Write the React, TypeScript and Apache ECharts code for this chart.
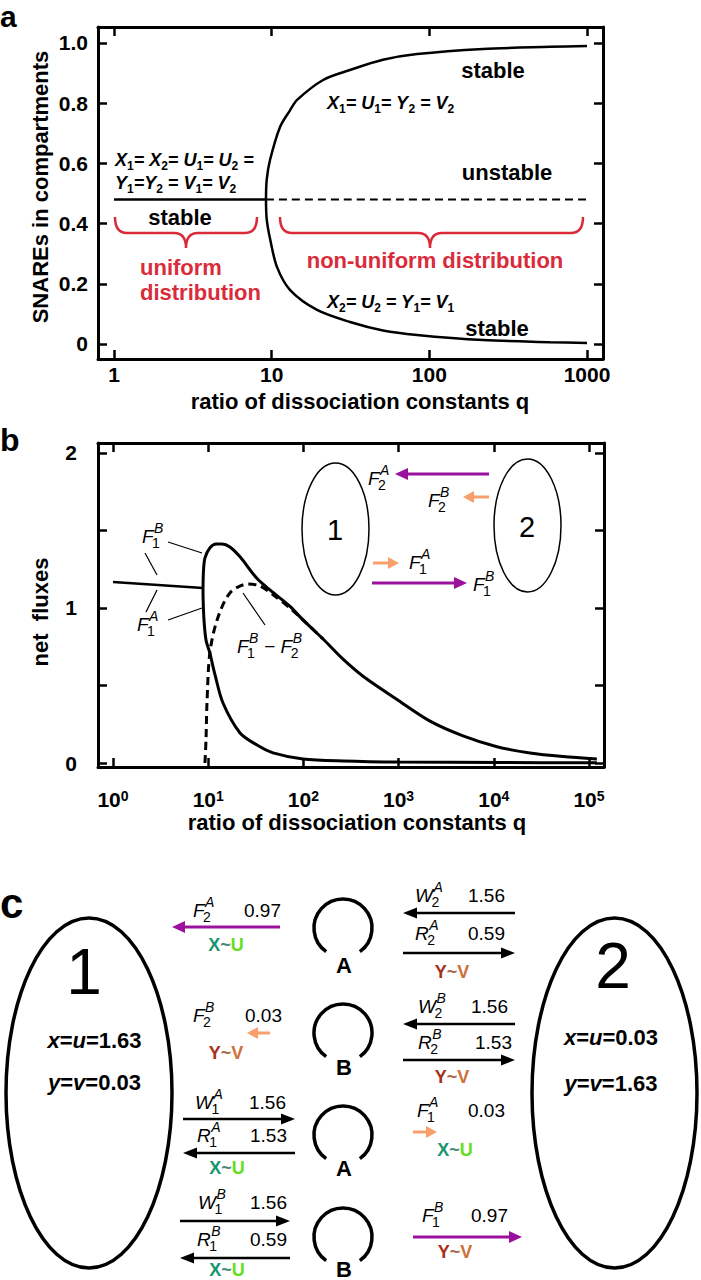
import React, { useEffect, useRef } from 'react';
import * as echarts from 'echarts';

const FF = '"Liberation Sans", Arial, Helvetica, sans-serif';
const RED = '#d92b3a';
const PURPLE = '#9b119e';
const ORANGE = '#f8a06c';
const TEAL = '#18966e';
const GREEN = '#66dd22';
const BROWN = '#a5301c';
const TAN = '#cf7038';

// ---------- panel a data ----------
const aTickQ = [1, 10, 100, 1000];
const aTickY = [0, 0.2, 0.4, 0.6, 0.8, 1.0];
const aUniformQ = [1, 9.2];
const aUniformY = [0.48, 0.48];
const aUnstableQ = [9.2, 1000];
const aUnstableY = [0.48, 0.48];
const aUpperQ = [9.2, 9.3, 9.76, 11.3, 13.1, 14.5, 21.2, 31.4, 50.8, 83.5, 219, 582, 1000];
const aUpperY = [0.48, 0.545, 0.611, 0.721, 0.777, 0.811, 0.877, 0.91, 0.944, 0.963, 0.98, 0.987, 0.99];
const aLowerQ = [9.2, 9.3, 9.76, 10.8, 13.1, 19.4, 31.4, 50.8, 83.5, 219, 582, 1000];
const aLowerY = [0.48, 0.415, 0.35, 0.256, 0.179, 0.113, 0.073, 0.045, 0.03, 0.013, 0.006, 0.003];

// ---------- panel b data ----------
const bTickExp = [0, 1, 2, 3, 4, 5];
const bTickY = [0, 0.5, 1, 1.5, 2];
const bLabelY = [0, 1, 2];
const bUniformQ = [1, 8.82];
const bUniformF = [1.168, 1.129];
const bUpperQ = [8.82, 8.93, 9.25, 10.4, 12.1, 14.0, 16.9, 21.6, 32.6, 48, 72.3, 99, 161, 261, 423, 962, 2140, 4750, 10800, 24000, 53300, 121000];
const bUpperF = [1.129, 1.245, 1.323, 1.387, 1.413, 1.413, 1.394, 1.33, 1.19, 1.1, 1.01, 0.923, 0.8, 0.67, 0.56, 0.41, 0.27, 0.175, 0.105, 0.065, 0.042, 0.026];
const bLowerQ = [8.82, 8.85, 9.03, 9.48, 10.4, 11.8, 14.3, 21.6, 32.6, 48, 99, 261, 1030, 11700, 121000];
const bLowerF = [1.129, 1.05, 0.923, 0.794, 0.71, 0.568, 0.387, 0.194, 0.116, 0.065, 0.026, 0.013, 0.006, 0.003, 0.001];
const bDiffQ = [9.25, 9.48, 9.71, 10.4, 12.4, 16.9, 26.2, 35, 48, 72.3, 99, 161];
const bDiffF = [0, 0.148, 0.387, 0.71, 0.923, 1.097, 1.155, 1.142, 1.085, 1.0, 0.923, 0.8];

// ---------- panel c values ----------
const cConc1 = ['1.63', '0.03'];
const cConc2 = ['0.03', '1.63'];
const cLeftVals = ['0.97', '0.03', '1.56', '1.53', '1.56', '0.59'];
const cRightVals = ['1.56', '0.59', '1.56', '1.53', '0.03', '0.97'];

const braceA = 'M115 217 Q115 233 127 233 L174 233 Q186 233 186 248 Q186 233 198 233 L245 233 Q257 233 257 217';
const braceB = 'M280 217 Q280 233 292 233 L418 233 Q430 233 430 248 Q430 233 442 233 L571 233 Q583 233 583 217';
echarts.graphic.registerShape('braceA', (echarts.graphic as any).extendPath(braceA, {}));
echarts.graphic.registerShape('braceB', (echarts.graphic as any).extendPath(braceB, {}));

let mctx: CanvasRenderingContext2D | null = null;
function mw(t: string, s: number, b = false, i = false): number {
  if (!mctx) mctx = document.createElement('canvas').getContext('2d');
  mctx!.font = `${i ? 'italic ' : ''}${b ? 'bold ' : ''}${s}px ${FF}`;
  return mctx!.measureText(t).width;
}

function T(x: number, y: number, t: string, s: number, o: any = {}) {
  return {
    type: 'text', x, y, rotation: o.r || 0, silent: true, z: 10,
    style: {
      text: t, fill: o.c || '#000', fontSize: s, fontFamily: FF,
      fontWeight: o.b ? 'bold' : 'normal', fontStyle: o.i ? 'italic' : 'normal',
      textAlign: o.a || 'left', textVerticalAlign: 'middle',
    },
  };
}

type P = { t: string; s: number; b?: boolean; i?: boolean; c?: string; dy?: number; sup?: string; sub?: string; ss?: number };
function run(x: number, y: number, parts: P[], align = 'left') {
  const ws = parts.map((p) => {
    let w = mw(p.t, p.s, p.b, p.i);
    if (p.sup != null || p.sub != null) {
      const ss = p.ss || Math.round(p.s * 0.72);
      w += Math.max(p.sup ? mw(p.sup, ss, p.b, true) : 0, p.sub ? mw(p.sub, ss, p.b, false) : 0) + 1;
    }
    return w;
  });
  const total = ws.reduce((a, b) => a + b, 0);
  let cx = align === 'left' ? x : align === 'center' ? x - total / 2 : x - total;
  const out: any[] = [];
  parts.forEach((p, k) => {
    out.push(T(cx, y + (p.dy || 0), p.t, p.s, { b: p.b, i: p.i, c: p.c }));
    if (p.sup != null || p.sub != null) {
      const ss = p.ss || Math.round(p.s * 0.72);
      const bw = mw(p.t, p.s, p.b, p.i);
      if (p.sup) out.push(T(cx + bw + 0.5, y - p.s * 0.42, p.sup, ss, { b: p.b, i: true, c: p.c }));
      if (p.sub) out.push(T(cx + bw - 1.5, y + p.s * 0.36, p.sub, ss, { b: p.b, c: p.c }));
    }
    cx += ws[k];
  });
  return out;
}

function formula(x: number, y: number, src: string, s: number, ss: number) {
  const parts: P[] = [];
  const re = /_(\d)/g;
  let last = 0;
  let m: RegExpExecArray | null;
  while ((m = re.exec(src))) {
    if (m.index > last) parts.push({ t: src.slice(last, m.index), s, b: true, i: true });
    parts.push({ t: m[1], s: ss, b: true, dy: s * 0.32 });
    last = m.index + 2;
  }
  if (last < src.length) parts.push({ t: src.slice(last), s, b: true, i: true });
  return run(x, y, parts, 'left');
}

function sym(x: number, y: number, base: string, sup: string, sub: string, s = 19) {
  return run(x, y, [{ t: base, s, i: true, sup, sub, ss: 14 }]);
}

function arrow(x1: number, y: number, x2: number, color: string, lw: number, hl: number, hw: number) {
  const dir = x2 > x1 ? 1 : -1;
  return [
    { type: 'line', silent: true, z: 10, shape: { x1, y1: y, x2: x2 - dir * hl * 0.7, y2: y }, style: { stroke: color, lineWidth: lw } },
    { type: 'polygon', silent: true, z: 10, shape: { points: [[x2, y], [x2 - dir * hl, y - hw], [x2 - dir * hl, y + hw]] }, style: { fill: color } },
  ];
}

function ln(x1: number, y1: number, x2: number, y2: number, w = 1.2) {
  return { type: 'line', silent: true, z: 10, shape: { x1, y1, x2, y2 }, style: { stroke: '#000', lineWidth: w } };
}

function xu(cx: number, y: number) {
  return run(cx, y, [
    { t: 'X', s: 18, b: true, c: TEAL },
    { t: '~', s: 18, b: true, c: '#4a8a7c' },
    { t: 'U', s: 18, b: true, c: GREEN },
  ], 'center');
}
function yv(cx: number, y: number) {
  return run(cx, y, [
    { t: 'Y', s: 18, b: true, c: BROWN },
    { t: '~', s: 18, b: true, c: '#a86a50' },
    { t: 'V', s: 18, b: true, c: TAN },
  ], 'center');
}

function conc(cx: number, y: number, v1: string, v2: string, val: string) {
  return run(cx, y, [
    { t: v1, s: 22, b: true, i: true },
    { t: '=', s: 22, b: true },
    { t: v2, s: 22, b: true, i: true },
    { t: '=' + val, s: 22, b: true },
  ], 'center');
}

function arc(cx: number, cy: number) {
  return {
    type: 'arc', silent: true, z: 10,
    shape: { cx, cy, r: 29, startAngle: Math.PI / 2 + 0.62, endAngle: Math.PI * 2.5 - 0.62, clockwise: true },
    style: { stroke: '#000', fill: 'none', lineWidth: 3.5 },
  };
}

function buildGraphics() {
  const g: any[] = [];
  // panel letters
  g.push(T(0, 16, 'a', 30, { b: true }));
  g.push(T(0, 440, 'b', 32, { b: true }));
  g.push(T(0, 903, 'c', 42, { b: true }));

  // axis titles
  g.push(T(360, 401, 'ratio of dissociation constants q', 22, { b: true, a: 'center' }));
  g.push(T(40, 187, 'SNAREs in compartments', 22, { b: true, a: 'center', r: Math.PI / 2 }));
  g.push(T(357, 822, 'ratio of dissociation constants q', 22, { b: true, a: 'center' }));
  g.push(T(40, 612, 'net  fluxes', 22, { b: true, a: 'center', r: Math.PI / 2 }));

  // panel a annotations
  g.push(T(493, 70, 'stable', 22, { b: true, a: 'center' }));
  g.push(T(507, 172, 'unstable', 22, { b: true, a: 'center' }));
  g.push(T(180, 217, 'stable', 22, { b: true, a: 'center' }));
  g.push(T(497, 328, 'stable', 22, { b: true, a: 'center' }));
  g.push(...formula(327, 103, 'X_1= U_1= Y_2 = V_2', 18, 12));
  g.push(...formula(115, 160, 'X_1= X_2= U_1= U_2 =', 18, 12));
  g.push(...formula(115, 183, 'Y_1=Y_2 = V_1= V_2', 18, 12));
  g.push(...formula(327, 302, 'X_2= U_2 = Y_1= V_1', 18, 12));
  g.push({ type: 'braceA', silent: true, z: 10, style: { stroke: RED, fill: 'none', lineWidth: 2.5 } });
  g.push({ type: 'braceB', silent: true, z: 10, style: { stroke: RED, fill: 'none', lineWidth: 2.5 } });
  g.push(T(140, 267, 'uniform', 22, { b: true, c: RED }));
  g.push(T(140, 292, 'distribution', 22, { b: true, c: RED }));
  g.push(T(435, 260, 'non-uniform distribution', 22, { b: true, c: RED, a: 'center' }));

  // panel b inset
  g.push({ type: 'ellipse', silent: true, z: 10, shape: { cx: 335.5, cy: 529, rx: 33.5, ry: 66 }, style: { stroke: '#000', fill: 'none', lineWidth: 1.5 } });
  g.push({ type: 'ellipse', silent: true, z: 10, shape: { cx: 527.5, cy: 525.5, rx: 33.5, ry: 66.5 }, style: { stroke: '#000', fill: 'none', lineWidth: 1.5 } });
  g.push(T(335, 530, '1', 29, { a: 'center' }));
  g.push(T(527, 527, '2', 29, { a: 'center' }));
  g.push(...arrow(489, 474, 395, PURPLE, 3, 13, 6));
  g.push(...arrow(489, 497, 463, ORANGE, 3, 11, 6));
  g.push(...arrow(373, 563, 399, ORANGE, 3, 11, 6));
  g.push(...arrow(372, 583, 467, PURPLE, 3, 13, 6));
  g.push(...sym(368, 478, 'F', 'A', '2'));
  g.push(...sym(428, 500, 'F', 'B', '2'));
  g.push(...sym(409, 562, 'F', 'A', '1'));
  g.push(...sym(473, 584, 'F', 'B', '1'));

  // panel b curve labels
  g.push(...sym(142, 536, 'F', 'B', '1'));
  g.push(...sym(137, 624, 'F', 'A', '1'));
  g.push(...run(237, 646, [
    { t: 'F', s: 19, i: true, sup: 'B', sub: '1', ss: 14 },
    { t: ' \u2212 ', s: 19 },
    { t: 'F', s: 19, i: true, sup: 'B', sub: '2', ss: 14 },
  ]));
  g.push(ln(168, 542, 202, 553));
  g.push(ln(145, 553, 157, 575));
  g.push(ln(157, 590, 146, 612));
  g.push(ln(168, 620, 202, 608));
  g.push(ln(243, 593, 265, 625));

  // panel c ellipses
  g.push({ type: 'ellipse', silent: true, z: 10, shape: { cx: 89, cy: 1093, rx: 83, ry: 175 }, style: { stroke: '#000', fill: 'none', lineWidth: 3.5 } });
  g.push({ type: 'ellipse', silent: true, z: 10, shape: { cx: 614.5, cy: 1093, rx: 82.5, ry: 175 }, style: { stroke: '#000', fill: 'none', lineWidth: 3.5 } });
  g.push(T(84, 972, '1', 64, { a: 'center' }));
  g.push(T(613, 966, '2', 64, { a: 'center' }));
  g.push(...conc(94.5, 1040, 'x', 'u', cConc1[0]));
  g.push(...conc(94.5, 1082, 'y', 'v', cConc1[1]));
  g.push(...conc(611, 1037, 'x', 'u', cConc2[0]));
  g.push(...conc(611, 1083, 'y', 'v', cConc2[1]));

  // arcs with letters
  const arcY = [928, 1033, 1135, 1237];
  const letY = [965, 1067, 1168, 1269];
  const lets = ['A', 'B', 'A', 'B'];
  arcY.forEach((cy, k) => {
    g.push(arc(343, cy));
    g.push(T(344, letY[k], lets[k], 22, { b: true, a: 'center' }));
  });

  // left column
  g.push(...sym(193, 910, 'F', 'A', '2'));
  g.push(T(281, 910, cLeftVals[0], 19, { a: 'right' }));
  g.push(...arrow(280, 927, 172, PURPLE, 3, 13, 6));
  g.push(...xu(226, 945));

  g.push(...sym(193, 1015, 'F', 'B', '2'));
  g.push(T(282, 1015, cLeftVals[1], 19, { a: 'right' }));
  g.push(...arrow(270, 1033, 247, ORANGE, 3, 11, 6));
  g.push(...yv(226, 1053));

  g.push(...sym(195, 1102, 'W', 'A', '1'));
  g.push(T(286, 1102, cLeftVals[2], 19, { a: 'right' }));
  g.push(...arrow(183, 1119, 295, '#000', 2.5, 14, 5.5));
  g.push(...sym(197, 1135, 'R', 'A', '1'));
  g.push(T(287, 1135, cLeftVals[3], 19, { a: 'right' }));
  g.push(...arrow(295, 1153, 183, '#000', 2.5, 14, 5.5));
  g.push(...xu(227, 1168));

  g.push(...sym(198, 1202, 'W', 'B', '1'));
  g.push(T(287, 1202, cLeftVals[4], 19, { a: 'right' }));
  g.push(...arrow(180, 1221, 290, '#000', 2.5, 14, 5.5));
  g.push(...sym(197, 1239, 'R', 'B', '1'));
  g.push(T(287, 1239, cLeftVals[5], 19, { a: 'right' }));
  g.push(...arrow(290, 1258, 180, '#000', 2.5, 14, 5.5));
  g.push(...xu(227, 1270));

  // right column
  g.push(...sym(415, 895, 'W', 'A', '2'));
  g.push(T(505, 895, cRightVals[0], 19, { a: 'right' }));
  g.push(...arrow(515, 913, 403, '#000', 2.5, 14, 5.5));
  g.push(...sym(415, 933, 'R', 'A', '2'));
  g.push(T(505, 933, cRightVals[1], 19, { a: 'right' }));
  g.push(...arrow(403, 953, 515, '#000', 2.5, 14, 5.5));
  g.push(...yv(452, 972));

  g.push(...sym(418, 1006, 'W', 'B', '2'));
  g.push(T(508, 1006, cRightVals[2], 19, { a: 'right' }));
  g.push(...arrow(515, 1024, 403, '#000', 2.5, 14, 5.5));
  g.push(...sym(418, 1042, 'R', 'B', '2'));
  g.push(T(512, 1042, cRightVals[3], 19, { a: 'right' }));
  g.push(...arrow(403, 1060, 515, '#000', 2.5, 14, 5.5));
  g.push(...yv(452, 1077));

  g.push(...sym(417, 1110, 'F', 'A', '1'));
  g.push(T(505, 1110, cRightVals[4], 19, { a: 'right' }));
  g.push(...arrow(413, 1132, 437, ORANGE, 3, 11, 6));
  g.push(...xu(455, 1150));

  g.push(...sym(422, 1215, 'F', 'B', '1'));
  g.push(T(508, 1215, cRightVals[5], 19, { a: 'right' }));
  g.push(...arrow(413, 1237, 522, PURPLE, 3, 13, 6));
  g.push(...yv(455, 1252));

  return g;
}

const lbl = { fontSize: 21, fontWeight: 'bold', color: '#000', fontFamily: FF };
function axisBase(extra: any) {
  return {
    type: 'value',
    splitLine: { show: false },
    axisLine: { show: true, onZero: false, lineStyle: { color: '#000', width: 3 } },
    ...extra,
  };
}
function ticks(vals: number[]) {
  return { show: true, inside: true, length: 9, customValues: vals, lineStyle: { color: '#000', width: 2.5 } };
}

const toXY = (qs: number[], ys: number[]) => qs.map((q, i) => [Math.log10(q), ys[i]]);

export default function App() {
  const ref = useRef<HTMLDivElement>(null);
  useEffect(() => {
    if (!ref.current) return;
    const chart = echarts.init(ref.current, null, { renderer: 'svg' });
    const aLogTicks = aTickQ.map((q) => Math.log10(q));
    const solid = (data: any[], xi: number, yi: number, dashed = false, w = 2.5) => ({
      type: 'line', xAxisIndex: xi, yAxisIndex: yi, data, symbol: 'none', smooth: 0.3,
      lineStyle: { color: '#000', width: w, type: dashed ? [8, 5] : 'solid' },
      silent: true,
    });
    const option: any = {
      animation: false,
      backgroundColor: '#fff',
      grid: [
        { left: 98, top: 27, width: 505, height: 332 },
        { left: 98, top: 443, width: 506, height: 324 },
      ],
      xAxis: [
        axisBase({ gridIndex: 0, position: 'bottom', min: -0.1015, max: 3.1015, axisTick: ticks(aLogTicks),
          axisLabel: { ...lbl, lineHeight: 20, customValues: aLogTicks, margin: 5, formatter: (v: number) => String(Math.round(Math.pow(10, v))) } }),
        axisBase({ gridIndex: 0, position: 'top', min: -0.1015, max: 3.1015, axisTick: ticks(aLogTicks), axisLabel: { show: false } }),
        axisBase({ gridIndex: 1, position: 'bottom', min: -0.1576, max: 5.1576, axisTick: ticks(bTickExp),
          axisLabel: {
            customValues: bTickExp, margin: 22,
            formatter: (v: number) => '{m|10}{s|' + Math.round(v) + '}',
            rich: {
              m: { ...lbl, lineHeight: 21 },
              s: { fontSize: 14, fontWeight: 'bold', color: '#000', fontFamily: FF, verticalAlign: 'top', lineHeight: 12 },
            },
          } }),
        axisBase({ gridIndex: 1, position: 'top', min: -0.1576, max: 5.1576, axisTick: ticks(bTickExp), axisLabel: { show: false } }),
      ],
      yAxis: [
        axisBase({ gridIndex: 0, position: 'left', min: -0.05, max: 1.053, axisTick: ticks(aTickY),
          axisLabel: { ...lbl, customValues: aTickY, margin: 10, formatter: (v: number) => (v === 0 ? '0' : v.toFixed(1)) } }),
        axisBase({ gridIndex: 0, position: 'right', min: -0.05, max: 1.053, axisTick: ticks(aTickY), axisLabel: { show: false } }),
        axisBase({ gridIndex: 1, position: 'left', min: -0.0258, max: 2.0645, axisTick: ticks(bTickY),
          axisLabel: { ...lbl, customValues: bLabelY, margin: 21, formatter: (v: number) => String(v) } }),
        axisBase({ gridIndex: 1, position: 'right', min: -0.0258, max: 2.0645, axisTick: ticks(bTickY), axisLabel: { show: false } }),
      ],
      series: [
        solid(toXY(aUniformQ, aUniformY), 0, 0),
        solid(toXY(aUnstableQ, aUnstableY), 0, 0, true, 2),
        solid(toXY(aUpperQ, aUpperY), 0, 0),
        solid(toXY(aLowerQ, aLowerY), 0, 0),
        solid(toXY(bUniformQ, bUniformF), 2, 2),
        solid(toXY(bUpperQ, bUpperF), 2, 2, false, 3),
        solid(toXY(bLowerQ, bLowerF), 2, 2, false, 3),
        solid(toXY(bDiffQ, bDiffF), 2, 2, true, 3),
      ],
      graphic: { elements: buildGraphics() },
    };
    chart.setOption(option);
    return () => chart.dispose();
  }, []);
  return <div ref={ref} style={{ position: 'absolute', left: 0, top: 0, width: 701, height: 1280, background: '#fff' }} />;
}
